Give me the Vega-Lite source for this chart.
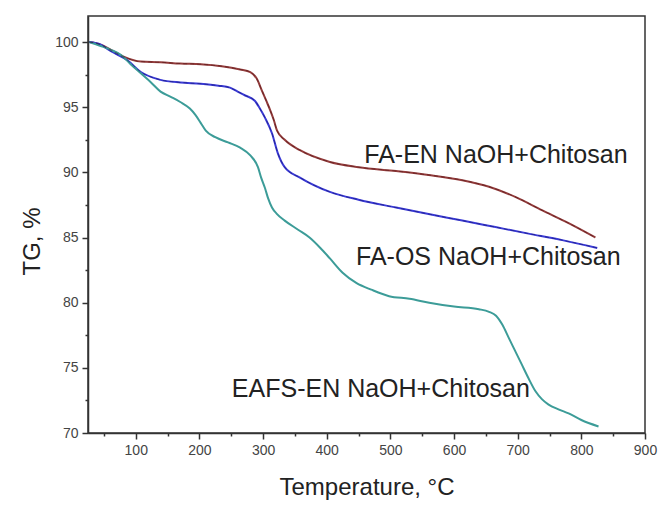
{
  "$schema": "https://vega.github.io/schema/vega-lite/v6.json",
  "width": 557,
  "height": 417,
  "autosize": "none",
  "padding": {"left": 88, "top": 16, "right": 14, "bottom": 77},
  "background": "white",
  "config": {
    "view": {"stroke": "#333", "strokeWidth": 1.5},
    "font": "Liberation Sans"
  },
  "datasets": {
    "curves": [
      {"s": "FA-EN", "T": 27, "TG": 100}, {"s": "FA-EN", "T": 45, "TG": 99.8}, {"s": "FA-EN", "T": 61, "TG": 99.4}, {"s": "FA-EN", "T": 80, "TG": 98.9}, {"s": "FA-EN", "T": 108, "TG": 98.5}, {"s": "FA-EN", "T": 139, "TG": 98.45}, {"s": "FA-EN", "T": 170, "TG": 98.35}, {"s": "FA-EN", "T": 202, "TG": 98.3}, {"s": "FA-EN", "T": 235, "TG": 98.15}, {"s": "FA-EN", "T": 264, "TG": 97.9}, {"s": "FA-EN", "T": 280, "TG": 97.7}, {"s": "FA-EN", "T": 290, "TG": 97.2}, {"s": "FA-EN", "T": 298, "TG": 96.3}, {"s": "FA-EN", "T": 305, "TG": 95.5}, {"s": "FA-EN", "T": 311, "TG": 94.8}, {"s": "FA-EN", "T": 317, "TG": 94.0}, {"s": "FA-EN", "T": 322, "TG": 93.2}, {"s": "FA-EN", "T": 334, "TG": 92.5}, {"s": "FA-EN", "T": 358, "TG": 91.7}, {"s": "FA-EN", "T": 405, "TG": 90.8}, {"s": "FA-EN", "T": 450, "TG": 90.4}, {"s": "FA-EN", "T": 509, "TG": 90.1}, {"s": "FA-EN", "T": 560, "TG": 89.8}, {"s": "FA-EN", "T": 613, "TG": 89.4}, {"s": "FA-EN", "T": 655, "TG": 88.9}, {"s": "FA-EN", "T": 697, "TG": 88.1}, {"s": "FA-EN", "T": 738, "TG": 87.1}, {"s": "FA-EN", "T": 780, "TG": 86.1}, {"s": "FA-EN", "T": 822, "TG": 85.0},
      {"s": "FA-OS", "T": 27, "TG": 100}, {"s": "FA-OS", "T": 45, "TG": 99.8}, {"s": "FA-OS", "T": 61, "TG": 99.3}, {"s": "FA-OS", "T": 87, "TG": 98.6}, {"s": "FA-OS", "T": 108, "TG": 97.7}, {"s": "FA-OS", "T": 139, "TG": 97.1}, {"s": "FA-OS", "T": 170, "TG": 96.9}, {"s": "FA-OS", "T": 202, "TG": 96.8}, {"s": "FA-OS", "T": 230, "TG": 96.65}, {"s": "FA-OS", "T": 248, "TG": 96.5}, {"s": "FA-OS", "T": 260, "TG": 96.2}, {"s": "FA-OS", "T": 272, "TG": 95.9}, {"s": "FA-OS", "T": 287, "TG": 95.5}, {"s": "FA-OS", "T": 295, "TG": 94.9}, {"s": "FA-OS", "T": 303, "TG": 94.2}, {"s": "FA-OS", "T": 314, "TG": 93.0}, {"s": "FA-OS", "T": 323, "TG": 91.5}, {"s": "FA-OS", "T": 334, "TG": 90.4}, {"s": "FA-OS", "T": 358, "TG": 89.6}, {"s": "FA-OS", "T": 405, "TG": 88.5}, {"s": "FA-OS", "T": 450, "TG": 87.9}, {"s": "FA-OS", "T": 509, "TG": 87.3}, {"s": "FA-OS", "T": 560, "TG": 86.8}, {"s": "FA-OS", "T": 613, "TG": 86.3}, {"s": "FA-OS", "T": 665, "TG": 85.8}, {"s": "FA-OS", "T": 717, "TG": 85.3}, {"s": "FA-OS", "T": 770, "TG": 84.8}, {"s": "FA-OS", "T": 825, "TG": 84.2},
      {"s": "EAFS-EN", "T": 27, "TG": 100}, {"s": "EAFS-EN", "T": 45, "TG": 99.7}, {"s": "EAFS-EN", "T": 61, "TG": 99.4}, {"s": "EAFS-EN", "T": 77, "TG": 99.0}, {"s": "EAFS-EN", "T": 92, "TG": 98.3}, {"s": "EAFS-EN", "T": 108, "TG": 97.6}, {"s": "EAFS-EN", "T": 124, "TG": 96.9}, {"s": "EAFS-EN", "T": 139, "TG": 96.2}, {"s": "EAFS-EN", "T": 155, "TG": 95.8}, {"s": "EAFS-EN", "T": 170, "TG": 95.4}, {"s": "EAFS-EN", "T": 185, "TG": 94.9}, {"s": "EAFS-EN", "T": 194, "TG": 94.4}, {"s": "EAFS-EN", "T": 202, "TG": 93.8}, {"s": "EAFS-EN", "T": 210, "TG": 93.2}, {"s": "EAFS-EN", "T": 225, "TG": 92.7}, {"s": "EAFS-EN", "T": 245, "TG": 92.3}, {"s": "EAFS-EN", "T": 264, "TG": 91.9}, {"s": "EAFS-EN", "T": 280, "TG": 91.3}, {"s": "EAFS-EN", "T": 292, "TG": 90.4}, {"s": "EAFS-EN", "T": 297, "TG": 89.6}, {"s": "EAFS-EN", "T": 303, "TG": 88.8}, {"s": "EAFS-EN", "T": 308, "TG": 88.0}, {"s": "EAFS-EN", "T": 314, "TG": 87.3}, {"s": "EAFS-EN", "T": 322, "TG": 86.8}, {"s": "EAFS-EN", "T": 334, "TG": 86.3}, {"s": "EAFS-EN", "T": 355, "TG": 85.6}, {"s": "EAFS-EN", "T": 373, "TG": 85.0}, {"s": "EAFS-EN", "T": 390, "TG": 84.2}, {"s": "EAFS-EN", "T": 405, "TG": 83.4}, {"s": "EAFS-EN", "T": 425, "TG": 82.3}, {"s": "EAFS-EN", "T": 447, "TG": 81.5}, {"s": "EAFS-EN", "T": 470, "TG": 81.0}, {"s": "EAFS-EN", "T": 498, "TG": 80.5}, {"s": "EAFS-EN", "T": 530, "TG": 80.3}, {"s": "EAFS-EN", "T": 561, "TG": 80.0}, {"s": "EAFS-EN", "T": 600, "TG": 79.7}, {"s": "EAFS-EN", "T": 639, "TG": 79.5}, {"s": "EAFS-EN", "T": 655, "TG": 79.3}, {"s": "EAFS-EN", "T": 666, "TG": 79.0}, {"s": "EAFS-EN", "T": 676, "TG": 78.3}, {"s": "EAFS-EN", "T": 686, "TG": 77.3}, {"s": "EAFS-EN", "T": 696, "TG": 76.3}, {"s": "EAFS-EN", "T": 706, "TG": 75.3}, {"s": "EAFS-EN", "T": 717, "TG": 74.2}, {"s": "EAFS-EN", "T": 728, "TG": 73.2}, {"s": "EAFS-EN", "T": 738, "TG": 72.6}, {"s": "EAFS-EN", "T": 748, "TG": 72.2}, {"s": "EAFS-EN", "T": 765, "TG": 71.8}, {"s": "EAFS-EN", "T": 780, "TG": 71.5}, {"s": "EAFS-EN", "T": 800, "TG": 71.0}, {"s": "EAFS-EN", "T": 827, "TG": 70.5}
    ],
    "labels": [
      {"label": "FA-EN NaOH+Chitosan", "T": 459, "TG": 91.3},
      {"label": "FA-OS NaOH+Chitosan", "T": 446, "TG": 83.5},
      {"label": "EAFS-EN NaOH+Chitosan", "T": 251, "TG": 73.4}
    ]
  },
  "encoding": {
    "x": {
      "field": "T", "type": "quantitative",
      "scale": {"domain": [25, 900], "nice": false, "zero": false},
      "axis": {
        "title": "Temperature, °C",
        "values": [50, 100, 150, 200, 250, 300, 350, 400, 450, 500, 550, 600, 650, 700, 750, 800, 850, 900],
        "labelExpr": "indexof([100,200,300,400,500,600,700,800,900], +datum.value) >= 0 ? format(datum.value, 'd') : ''",
        "labelOverlap": false,
        "labelFlush": false,
        "tickSize": {"condition": {"test": "indexof([100,200,300,400,500,600,700,800,900], +datum.value) >= 0", "value": 6}, "value": 3},
        "grid": false,
        "domainColor": "#333", "domainWidth": 1.5,
        "tickColor": "#333", "tickWidth": 1.5,
        "labelFontSize": 14, "labelColor": "#444", "labelPadding": 4,
        "titleFontSize": 24, "titleFontWeight": "normal", "titleColor": "#222", "titlePadding": 18
      }
    },
    "y": {
      "field": "TG", "type": "quantitative",
      "scale": {"domain": [70, 102], "nice": false, "zero": false},
      "axis": {
        "title": "TG, %",
        "values": [70, 72.5, 75, 77.5, 80, 82.5, 85, 87.5, 90, 92.5, 95, 97.5, 100],
        "labelExpr": "datum.value % 5 === 0 ? datum.label : ''",
        "labelOverlap": false,
        "labelFlush": false,
        "tickSize": {"condition": {"test": "datum.value % 5 === 0", "value": 6}, "value": 3},
        "grid": false,
        "domainColor": "#333", "domainWidth": 1.5,
        "tickColor": "#333", "tickWidth": 1.5,
        "labelFontSize": 14, "labelColor": "#444", "labelPadding": 4,
        "titleFontSize": 24, "titleFontWeight": "normal", "titleColor": "#222", "titlePadding": 10,
        "titleY": 225
      }
    }
  },
  "layer": [
    {
      "data": {"name": "curves"},
      "mark": {"type": "line", "strokeWidth": 2, "interpolate": "monotone"},
      "encoding": {
        "color": {
          "field": "s", "type": "nominal",
          "scale": {"domain": ["FA-EN", "FA-OS", "EAFS-EN"], "range": ["#923b3b", "#3a3ad6", "#3c9c98"]},
          "legend": null
        }
      }
    },
    {
      "data": {"name": "curves"},
      "transform": [{"filter": "datum.s !== 'EAFS-EN'"}],
      "mark": {"type": "line", "strokeWidth": 1, "interpolate": "monotone", "strokeDash": [4, 3], "opacity": 0.5},
      "encoding": {
        "stroke": {
          "field": "s", "type": "nominal",
          "scale": {"domain": ["FA-EN", "FA-OS"], "range": ["#4a1010", "#101060"]},
          "legend": null
        }
      }
    },
    {
      "data": {"name": "labels"},
      "mark": {"type": "text", "align": "left", "baseline": "middle", "fontSize": 25, "color": "#222"},
      "encoding": {
        "text": {"field": "label"}
      }
    }
  ],
  "resolve": {"scale": {"color": "independent", "stroke": "independent"}}
}
